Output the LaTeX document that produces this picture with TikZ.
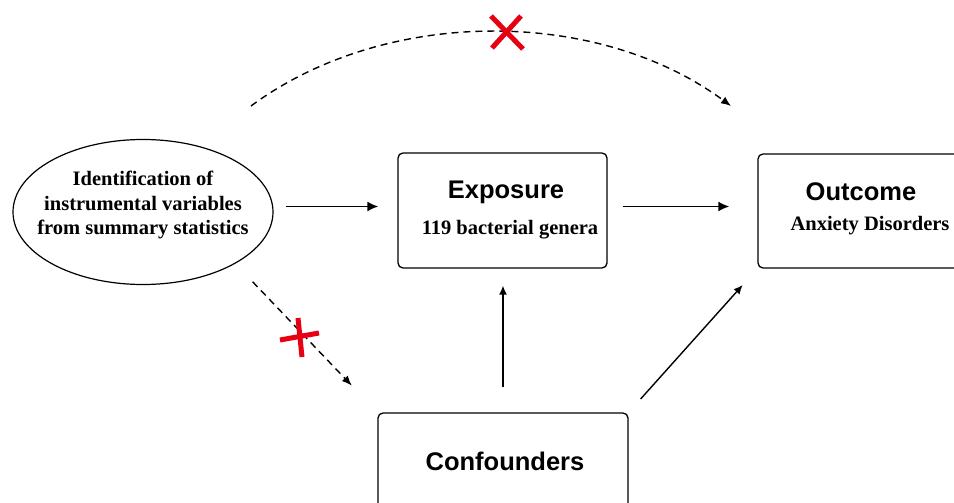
\documentclass[tikz,border=0pt]{standalone}
\usepackage{fontspec}
\setmainfont{Liberation Serif}
\setsansfont{Liberation Sans}
\usetikzlibrary{arrows.meta,shapes.geometric}

\definecolor{xred}{RGB}{230,0,18}

\tikzset{
    stepbox/.style={draw, line width=1.3pt, rounded corners=5pt},
    headtext/.style={font=\sffamily\bfseries\fontsize{25.5}{30}\selectfont, anchor=base, inner sep=0pt},
    subtext/.style={font=\bfseries\fontsize{20.5}{24.5}\selectfont, anchor=base, inner sep=0pt},
    thickarrow/.style={line width=1.9pt, -{Latex[length=11pt,width=10pt]}},
    thinarrow/.style={line width=1.4pt, -{Latex[length=9pt,width=8pt]}},
    dasharrow/.style={line width=1.4pt, dash pattern=on 7pt off 5pt, -{Latex[length=10pt,width=8pt]}},
    redcross/.style={xred, line width=5pt}
}

\begin{document}
\begin{tikzpicture}[x=1pt, y=-1pt]

        \clip (0,0) rectangle (954,503);

        %----- INSTRUMENTAL VARIABLES (ELLIPSE) -----
        \node[ellipse, draw, line width=1.2pt, minimum width=260pt, minimum height=145pt] (iv) at (143,212) {};
        \node[font=\bfseries\fontsize{20.5}{24.5}\selectfont, align=center, inner sep=0pt] (ivtext) at (143,205)
            {Identification of\\instrumental variables\\from summary statistics};

        %----- BOXES -----
        \node[stepbox, minimum width=209pt, minimum height=115pt] (exp) at (502.5,210.5) {};
        \node[stepbox, minimum width=214pt, minimum height=114pt] (out) at (865,211) {};
        \node[stepbox, minimum width=250pt, minimum height=106pt] (conf) at (503,466) {};

        %----- BOX TEXTS -----
        \node[headtext] (exphead) at (506,198) {Exposure};
        \node[subtext] (expsub) at (510,234) {119 bacterial genera};
        \node[headtext] (outhead) at (861,200) {Outcome};
        \node[subtext] (outsub) at (870,230) {Anxiety Disorders};
        \node[headtext] (confhead) at (505,470) {Confounders};

        %----- SOLID ARROWS -----
        \draw[thickarrow] ([xshift=12pt,yshift=4pt]iv.east |- exp.west) -- ([xshift=-19pt,yshift=4pt]exp.west);
        \draw[thickarrow] ([xshift=15pt,yshift=4pt]exp.east) -- ([xshift=-28pt,yshift=4pt]out.west |- exp.east);
        \draw[thinarrow, shorten <=25pt, shorten >=17pt] (conf.north) -- (exp.south -| conf.north);
        \draw[thinarrow, shorten <=18pt, shorten >=22pt] (conf.north east) -- (out.south west);

        %----- DASHED ARROWS -----
        \draw[dasharrow, shorten <=25pt, shorten >=37pt] (iv.south east) -- (conf.north west);
        \coordinate (arcstart) at (251,106);
        \coordinate (arcend) at (731,106);
        \draw[dasharrow] (arcstart) .. controls (385,7) and (597,7) .. (arcend);

        %----- RED CROSSES -----
        \draw[redcross] (491,16) -- (523,49);
        \draw[redcross] (521,16) -- (492,48);
        \draw[redcross] (280,340) -- (319,333);
        \draw[redcross] (298,318) -- (302,357);

\end{tikzpicture}
\end{document}
